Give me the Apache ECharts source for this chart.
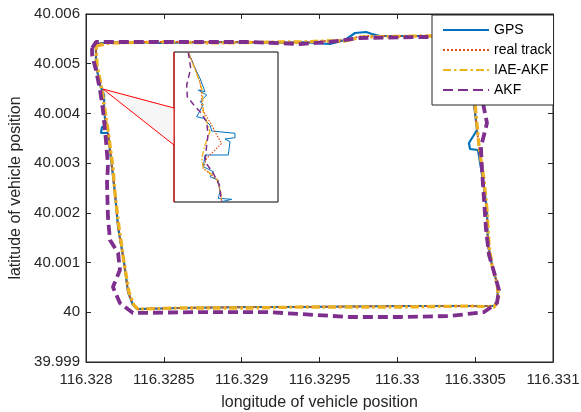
<!DOCTYPE html>
<html>
<head>
<meta charset="utf-8">
<script src="https://cdn.jsdelivr.net/npm/echarts@6/dist/echarts.min.js"></script>
<style>html,body{margin:0;padding:0;background:#fff}#c{width:581px;height:412px}</style>
</head>
<body>
<div id="c"></div>
<script>
// ---- data (longitude, latitude) ----
var gpsTrack = [
 [116.328064,40.005396],[116.328154,40.005437],[116.328475,40.005417],[116.328861,40.005437],
 [116.329246,40.005417],[116.329375,40.005437],[116.329567,40.005396],[116.329664,40.005477],
 [116.329728,40.005618],[116.329799,40.005638],[116.329837,40.005598],[116.329889,40.005557],
 [116.330146,40.005557],[116.330467,40.005557],[116.330492,40.005477],[116.330486,40.004873],
 [116.330492,40.004210],[116.330512,40.003666],[116.330460,40.003405],[116.330467,40.003284],
 [116.330518,40.003264],[116.330550,40.002661],[116.330576,40.002057],[116.330582,40.001353],
 [116.330608,40.000951],[116.330640,40.000589],[116.330647,40.000247],[116.330621,40.000126],
 [116.330467,40.000126],[116.330017,40.000126],[116.329375,40.000106],[116.329054,40.000106],
 [116.328604,40.000086],[116.328328,40.000065],[116.328302,40.000146],[116.328270,40.000407],
 [116.328244,40.001011],[116.328206,40.001715],[116.328186,40.002399],[116.328167,40.002922],
 [116.328141,40.003606],[116.328096,40.003606],[116.328103,40.003727],[116.328128,40.003727],
 [116.328116,40.004069],[116.328116,40.004371],[116.328090,40.004572],[116.328064,40.004974],
 [116.328064,40.005396]
];
var realTrack = [
 [116.328064,40.005396],[116.328154,40.005437],[116.328475,40.005437],[116.328861,40.005437],
 [116.329246,40.005437],[116.329375,40.005417],[116.329535,40.005457],[116.329664,40.005477],
 [116.329773,40.005557],[116.329889,40.005557],[116.330146,40.005557],[116.330467,40.005557],
 [116.330492,40.005477],[116.330486,40.004873],[116.330492,40.004210],[116.330525,40.003324],
 [116.330550,40.002661],[116.330576,40.002057],[116.330582,40.001353],[116.330608,40.000951],
 [116.330640,40.000589],[116.330647,40.000247],[116.330621,40.000126],[116.330467,40.000126],
 [116.330017,40.000126],[116.329375,40.000106],[116.329054,40.000106],[116.328604,40.000086],
 [116.328328,40.000065],[116.328302,40.000146],[116.328270,40.000407],[116.328244,40.001011],
 [116.328206,40.001715],[116.328186,40.002399],[116.328167,40.002922],[116.328141,40.003666],
 [116.328116,40.004069],[116.328103,40.004471],[116.328064,40.004974],[116.328064,40.005396]
];
var iaeTrack = [
 [116.328064,40.005356],[116.328154,40.005417],[116.328475,40.005437],[116.328861,40.005417],
 [116.329246,40.005437],[116.329375,40.005437],[116.329535,40.005457],[116.329664,40.005457],
 [116.329773,40.005537],[116.330146,40.005557],[116.330467,40.005557],[116.330492,40.005457],
 [116.330492,40.004873],[116.330499,40.004210],[116.330525,40.003324],[116.330557,40.002661],
 [116.330576,40.002057],[116.330589,40.001353],[116.330608,40.000951],[116.330640,40.000589],
 [116.330653,40.000247],[116.330621,40.000106],[116.330467,40.000126],[116.330017,40.000106],
 [116.329375,40.000106],[116.329054,40.000086],[116.328604,40.000086],[116.328334,40.000065],
 [116.328308,40.000146],[116.328276,40.000407],[116.328244,40.001011],[116.328212,40.001715],
 [116.328186,40.002399],[116.328173,40.002922],[116.328141,40.003666],[116.328122,40.004069],
 [116.328103,40.004471],[116.328071,40.004974],[116.328064,40.005356]
];
var akfTrack = [
 [116.328039,40.005316],[116.328064,40.005437],[116.328475,40.005437],[116.329054,40.005437],
 [116.329375,40.005396],[116.329567,40.005437],[116.329760,40.005517],[116.330146,40.005537],
 [116.330467,40.005537],[116.330531,40.005075],[116.330550,40.004210],[116.330576,40.003807],
 [116.330537,40.003324],[116.330544,40.002862],[116.330557,40.002258],[116.330570,40.001655],
 [116.330589,40.001152],[116.330621,40.000810],[116.330653,40.000448],[116.330640,40.000186],
 [116.330557,40.000005],[116.330338,39.999925],[116.330017,39.999905],[116.329696,39.999905],
 [116.329375,39.999965],[116.329163,40.000005],[116.328732,40.000005],[116.328302,39.999985],
 [116.328218,40.000186],[116.328173,40.000508],[116.328218,40.000850],[116.328206,40.001192],
 [116.328154,40.001454],[116.328141,40.001916],[116.328135,40.002600],[116.328141,40.002962],
 [116.328128,40.003465],[116.328109,40.004069],[116.328090,40.004471],[116.328064,40.004873],
 [116.328039,40.005175],[116.328039,40.005316]
];
// inset (magnified view) in its own local units: x 0..104, y 0..150 (downwards)
var insetGps = [
 [14.3,0.3],[22.7,19.7],[26,26.3],[31,39.7],[24.3,38],[32.7,43],[26,49.7],[29.3,52.3],
 [22.7,64.7],[29.3,66.3],[36,73],[37.7,79],[61,81.3],[61,85.7],[51,87],[56,89.7],
 [54.3,103],[31,103],[29.3,114.7],[39.3,119.7],[36,124.7],[44.3,128],[46,139.7],
 [44.3,146.3],[57.7,147.3],[47.7,149.7]
];
var insetReal = [
 [14.3,0.3],[21,16.3],[26,29.7],[27.7,43],[27.7,56.3],[32.7,64.7],[37.7,73],[42.7,83],
 [47.7,91.3],[39.3,99.7],[32.7,106.3],[29.3,116.3],[37.7,123],[44.3,129.7],[46,139.7],[47.7,149.7]
];
var insetIae = [
 [14.3,0.3],[19.3,13],[24.3,26.3],[27.7,36.3],[28.7,46.3],[29.3,59.7],[32.7,69.7],[36,79.7],
 [31,93],[27.7,106.3],[29.3,116.3],[36,121.3],[42.7,126.3],[46,136.3],[47.7,149.7]
];
var insetAkf = [
 [14.3,0.3],[16.7,16.3],[12.7,33],[13.3,44.7],[19.3,52.3],[26,59.7],[32.7,69.7],[34,83],
 [32.7,93],[31,109.7],[39.3,121.3],[45.3,133],[47.7,149.7]
];
var zoomSource = [116.328109, 40.004491];
var insetEdge = [56, 93];
var xTicks = {min:116.328, max:116.331, interval:0.0005};
var yTicks = {min:39.999, max:40.006, interval:0.001};

var C = {gps:'#0072BD', real:'#D95319', iae:'#EDB120', akf:'#7E2F8E'};
var axisCol = '#262626';
var font = '"Liberation Sans", Arial, sans-serif';

var chart = echarts.init(document.getElementById('c'), null, {renderer:'canvas'});

function mainAxisX(pos, labels){
  return {type:'value', gridIndex:0, position:pos, min:xTicks.min, max:xTicks.max, interval:xTicks.interval,
    name: labels ? 'longitude of vehicle position' : '', nameLocation:'middle', nameGap:33,
    nameTextStyle:{fontFamily:font, fontSize:16, color:axisCol},
    axisLine:{show:true, onZero:false, lineStyle:{color:axisCol, width:1}},
    axisTick:{show:true, inside:true, length:5, lineStyle:{color:axisCol}},
    axisLabel:{show:labels, margin:10, fontFamily:font, fontSize:15, color:axisCol, showMaxLabel:true, showMinLabel:true},
    splitLine:{show:false}};
}
function mainAxisY(pos, labels){
  return {type:'value', gridIndex:0, position:pos, min:yTicks.min, max:yTicks.max, interval:yTicks.interval,
    name: labels ? 'latitude of vehicle position' : '', nameLocation:'middle', nameGap:56,
    nameTextStyle:{fontFamily:font, fontSize:16, color:axisCol},
    axisLine:{show:true, onZero:false, lineStyle:{color:axisCol, width:1}},
    axisTick:{show:true, inside:true, length:5, lineStyle:{color:axisCol}},
    axisLabel:{show:labels, margin:6, fontFamily:font, fontSize:15, color:axisCol, showMaxLabel:true, showMinLabel:true},
    splitLine:{show:false}};
}
function hiddenAxis(type, max, inverse){
  return {type:'value', gridIndex:1, min:0, max:max, inverse:!!inverse, show:false, splitLine:{show:false}};
}

var mainLine = {
  gps:{color:C.gps, width:2.2, type:'solid'},
  real:{color:C.real, width:2, type:[2,2]},
  iae:{color:C.iae, width:3.3, type:[8,3,2.5,3]},
  akf:{color:C.akf, width:3.8, type:[10,5]}
};
var insetLine = {
  gps:{color:C.gps, width:1, type:'solid'},
  real:{color:C.real, width:1.2, type:[1.5,1.5]},
  iae:{color:C.iae, width:1.4, type:[6,2,1.5,2]},
  akf:{color:C.akf, width:1.5, type:[6,4]}
};
function ser(name, data, ls, grid){
  return {type:'line', name:name, data:data, xAxisIndex:grid?2:0, yAxisIndex:grid?2:0,
    showSymbol:false, symbol:'none', smooth:false, lineStyle:ls, itemStyle:{color:ls.color},
    emphasis:{disabled:true}, silent:true, clip:true};
}

chart.setOption({
  animation:false,
  backgroundColor:'#fff',
  grid:[
    {left:86, right:28, top:14, bottom:50, show:true, borderColor:axisCol, borderWidth:1, backgroundColor:'transparent', containLabel:false, outerBoundsMode:'none'},
    {left:174, top:52, width:104, height:150, show:true, borderColor:'#000', borderWidth:1, backgroundColor:'#fff', containLabel:false, outerBoundsMode:'none'}
  ],
  xAxis:[mainAxisX('bottom', true), mainAxisX('top', false), hiddenAxis('x',104,false)],
  yAxis:[mainAxisY('left', true), mainAxisY('right', false), hiddenAxis('y',150,true)],
  legend:{
    orient:'vertical', left:432, top:15, padding:[8,2,8,10], itemGap:6, itemWidth:46, itemHeight:12,
    backgroundColor:'#fff', borderColor:axisCol, borderWidth:1, borderRadius:0,
    itemStyle:{opacity:0},
    textStyle:{fontFamily:font, fontSize:14, color:'#000'},
    data:['GPS','real track','IAE-AKF','AKF'], selectedMode:false
  },
  series:[
    ser('GPS', gpsTrack, mainLine.gps, 0),
    ser('real track', realTrack, mainLine.real, 0),
    ser('IAE-AKF', iaeTrack, mainLine.iae, 0),
    ser('AKF', akfTrack, mainLine.akf, 0),
    ser('GPS', insetGps, insetLine.gps, 1),
    ser('real track', insetReal, insetLine.real, 1),
    ser('IAE-AKF', insetIae, insetLine.iae, 1),
    ser('AKF', insetAkf, insetLine.akf, 1)
  ]
});

var src = chart.convertToPixel({gridIndex:0}, zoomSource);
var e1 = chart.convertToPixel({gridIndex:1}, [0, insetEdge[0]]);
var e2 = chart.convertToPixel({gridIndex:1}, [0, insetEdge[1]]);
var top0 = chart.convertToPixel({gridIndex:1}, [0, 0]);
var bot0 = chart.convertToPixel({gridIndex:1}, [0, 150]);
chart.setOption({
  graphic:[
    {type:'polygon', silent:true, z:1, shape:{points:[src, e1, e2]}, style:{fill:'#f6f6f6', stroke:null}},
    {type:'line', silent:true, z:10, shape:{x1:src[0], y1:src[1], x2:e1[0], y2:e1[1]}, style:{stroke:'#ff0000', lineWidth:1}},
    {type:'line', silent:true, z:10, shape:{x1:src[0], y1:src[1], x2:e2[0], y2:e2[1]}, style:{stroke:'#ff0000', lineWidth:1}},
    {type:'line', silent:true, z:10, shape:{x1:top0[0], y1:top0[1], x2:bot0[0], y2:bot0[1]}, style:{stroke:'#ff0000', lineWidth:1}}
  ]
});
</script>
</body>
</html>
